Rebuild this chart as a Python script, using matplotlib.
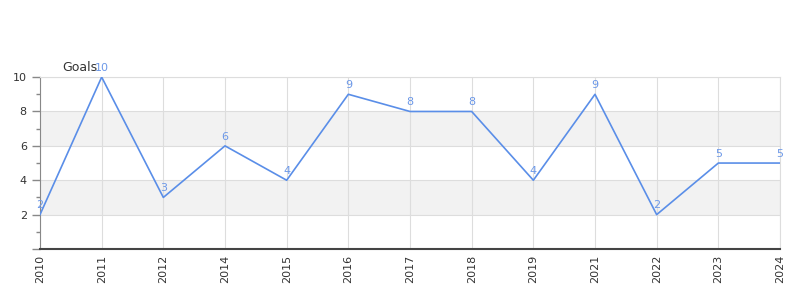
import matplotlib
matplotlib.use("Agg")
import matplotlib.pyplot as plt
from matplotlib.ticker import MultipleLocator

years = ["2010", "2011", "2012", "2014", "2015", "2016", "2017", "2018", "2019", "2021", "2022", "2023", "2024"]
goals = [2, 10, 3, 6, 4, 9, 8, 8, 4, 9, 2, 5, 5]
series_name = "Goals"

fig = plt.figure(figsize=(8, 3), dpi=100)
ax = fig.add_axes([0.05, 0.17, 0.925, 0.573])

x = list(range(len(years)))
ax.set_xlim(0, len(years) - 1)
ax.set_ylim(0, 10)

for lo, hi in [(2, 4), (6, 8)]:
    ax.axhspan(lo, hi, color="#f2f2f2", zorder=0, lw=0)
for v in [2, 4, 6, 8, 10]:
    ax.axhline(v, color="#dddddd", lw=0.8, zorder=0.5)
for xi in x:
    ax.axvline(xi, color="#dddddd", lw=0.8, zorder=0.5)

line_color = "#5a8ee8"
ax.plot(x, goals, color=line_color, lw=1.2, zorder=3)
for xi, v in zip(x, goals):
    ax.text(xi, v + 0.25, str(v), color="#6c98e8", fontsize=8, ha="center", va="bottom", zorder=4)

ax.axhline(0, color="#cc0000", lw=1.2, zorder=2)

ax.set_xticks(x)
ax.set_xticklabels(years, rotation=90, fontsize=8, color="#333333")
ax.set_yticks([0, 2, 4, 6, 8, 10])
ax.set_yticklabels(["", "2", "4", "6", "8", "10"], fontsize=8, color="#333333")
ax.yaxis.set_minor_locator(MultipleLocator(1))
ax.tick_params(axis="y", which="major", length=6, color="#888888", width=1)
ax.tick_params(axis="y", which="minor", length=3, color="#888888", width=1)
ax.tick_params(axis="x", length=0, pad=4)

ax.spines["left"].set_color("#888888")
ax.spines["bottom"].set_color("#444444")
ax.spines["bottom"].set_linewidth(1.5)
ax.spines["right"].set_color("#dddddd")
ax.spines["right"].set_linewidth(0.8)
ax.spines["top"].set_color("#dddddd")
ax.spines["top"].set_linewidth(0.8)

fig.text(62 / 800, 1 - 67 / 300, series_name, fontsize=9, color="#333333", ha="left", va="center")

fig.savefig("out.png", dpi=100)
